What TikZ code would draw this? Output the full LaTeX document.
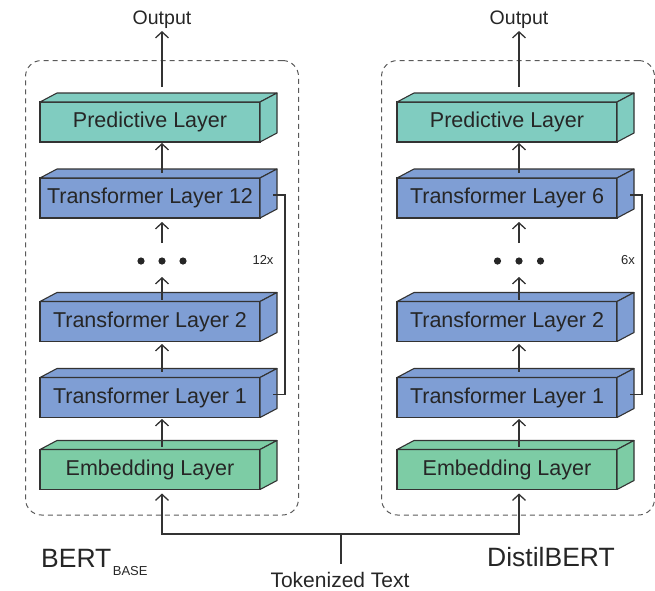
\documentclass[tikz,border=0pt]{standalone}
\usepackage{fontspec}
\setmainfont{Liberation Sans}
\usetikzlibrary{arrows.meta}

\definecolor{edge}{HTML}{333333}
\definecolor{txt}{HTML}{262626}
\definecolor{teal}{RGB}{128,204,192}
\definecolor{bluel}{RGB}{127,158,212}
\definecolor{greenl}{RGB}{125,204,165}
\definecolor{dashc}{HTML}{5A5A5A}

\tikzset{
  layer/.style={draw=edge, line width=1.1pt, minimum width=220pt, minimum height=40pt,
    inner sep=0pt, outer sep=0pt, text=txt, font=\fontsize{21.5}{24}\selectfont},
  face/.style={draw=edge, line width=1.1pt, line join=round},
  arr/.style={draw=edge, line width=1.3pt, -{Straight Barb[length=6pt,width=13pt]}},
  plain/.style={draw=edge, line width=1.3pt},
  group/.style={draw=dashc, line width=1pt, dash pattern=on 5pt off 4pt,
    rounded corners=16pt, minimum width=273pt, minimum height=454.5pt, inner sep=0pt},
  lbl/.style={text=txt, inner sep=2pt},
}

% a layer block: front face as a node, top and side faces drawn from its anchors
\newcommand\layerbox[5]{%
  \node[layer, fill=#4] (#1) at (#2,#3) {#5};
  \filldraw[face, fill=#4] (#1.north west) -- ++(17,-9)
    -- ([shift={(17,-9)}]#1.north east) -- (#1.north east) -- cycle;
  \filldraw[face, fill=#4] (#1.north east) -- ([shift={(17,-9)}]#1.north east)
    -- ([shift={(17,-9)}]#1.south east) -- (#1.south east) -- cycle;
}

\begin{document}
\begin{tikzpicture}[x=1pt, y=-1pt]
\useasboundingbox (0,0) rectangle (655,590);

% dashed model frames
\node[group] (grpL) at (162,287.75) {};
\node[group] (grpR) at (518,287.75) {};

% BERT base stack
\layerbox{predL}{150}{122}{teal}{Predictive Layer}
\layerbox{tlxL}{150}{198}{bluel}{Transformer Layer 12}
\layerbox{tlbL}{150}{321.5}{bluel}{Transformer Layer 2}
\layerbox{tlaL}{150}{397.5}{bluel}{Transformer Layer 1}
\layerbox{embL}{150}{469.5}{greenl}{Embedding Layer}

% DistilBERT stack
\layerbox{predR}{507}{122}{teal}{Predictive Layer}
\layerbox{tlxR}{507}{198}{bluel}{Transformer Layer 6}
\layerbox{tlbR}{507}{321.5}{bluel}{Transformer Layer 2}
\layerbox{tlaR}{507}{397.5}{bluel}{Transformer Layer 1}
\layerbox{embR}{507}{469.5}{greenl}{Embedding Layer}

% ellipsis between layers
\node[minimum width=50pt, minimum height=10pt, inner sep=0pt] (dotsL) at (162,261) {};
\node[minimum width=50pt, minimum height=10pt, inner sep=0pt] (dotsR) at (519,261) {};
\fill[txt] (dotsL.center) circle[radius=3.6pt]
  ([xshift=-21pt]dotsL.center) circle[radius=3.6pt]
  ([xshift=21pt]dotsL.center) circle[radius=3.6pt];
\fill[txt] (dotsR.center) circle[radius=3.6pt]
  ([xshift=-21.5pt]dotsR.center) circle[radius=3.6pt]
  ([xshift=21.5pt]dotsR.center) circle[radius=3.6pt];

% outputs
\node[lbl, font=\fontsize{19.5}{22}\selectfont] (outL) at (162,20) {Output};
\node[lbl, font=\fontsize{19.5}{22}\selectfont] (outR) at (519,20) {Output};

% labels
\node[lbl, anchor=base west, font=\fontsize{26.5}{28}\selectfont, inner sep=0pt] (nameL) at (41,567)
  {BERT\hspace{1.5pt}\raisebox{-8pt}{\fontsize{13}{14}\selectfont BASE}};
\node[lbl, anchor=base west, font=\fontsize{26.5}{28}\selectfont, inner sep=0pt] (nameR) at (487,566) {DistilBERT};
\node[lbl, font=\fontsize{13}{14}\selectfont] (repL) at (263,260) {12x};
\node[lbl, font=\fontsize{13}{14}\selectfont] (repR) at (628,260) {6x};
\node[lbl, anchor=base, inner sep=1pt, font=\fontsize{21}{23}\selectfont] (tok) at (340,587) {Tokenized Text};

% flow inside BERT base
\draw[arr] ([shift={(12,-15)}]predL.north) -- (outL.south);
\draw[arr] ([shift={(12,-5)}]tlxL.north) -- ([shift={(12,1)}]predL.south);
\draw[arr] ([yshift=18pt]dotsL.center) -- ([shift={(12,4)}]tlxL.south);
\draw[arr] ([shift={(12,-2)}]tlbL.north) -- ([yshift=-16pt]dotsL.center);
\draw[arr] ([shift={(12,-6)}]tlaL.north) -- ([shift={(12,2.5)}]tlbL.south);
\draw[arr] ([shift={(12,-3)}]embL.north) -- ([shift={(12,1.5)}]tlaL.south);

% flow inside DistilBERT
\draw[arr] ([shift={(12,-15)}]predR.north) -- (outR.south);
\draw[arr] ([shift={(12,-5)}]tlxR.north) -- ([shift={(12,1)}]predR.south);
\draw[arr] ([yshift=18pt]dotsR.center) -- ([shift={(12,4)}]tlxR.south);
\draw[arr] ([shift={(12,-2)}]tlbR.north) -- ([yshift=-16pt]dotsR.center);
\draw[arr] ([shift={(12,-6)}]tlaR.north) -- ([shift={(12,2.5)}]tlbR.south);
\draw[arr] ([shift={(12,-3)}]embR.north) -- ([shift={(12,1.5)}]tlaR.south);

% repetition brackets
\draw[plain] ([shift={(13,-3)}]tlxL.east) -- ++(12,0) |- ([shift={(13,-3)}]tlaL.east);
\draw[plain] ([shift={(13,-3)}]tlxR.east) -- ++(12,0) |- ([shift={(13,-3)}]tlaR.east);

% shared input
\coordinate (join) at (341,534);
\draw[plain, shorten <=7pt] (tok.north -| join) -- (join);
\draw[arr] (join) -| ([shift={(12,4)}]embL.south);
\draw[arr] (join) -| ([shift={(12,4)}]embR.south);
\end{tikzpicture}
\end{document}
